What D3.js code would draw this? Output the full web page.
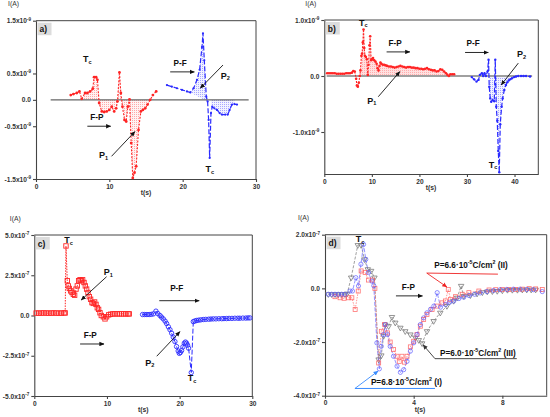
<!DOCTYPE html>
<html><head><meta charset="utf-8">
<script src="https://cdn.jsdelivr.net/npm/d3@7"></script>
<style>body{margin:0;background:#fff}</style>
</head><body><svg id="c" width="550" height="417"></svg>
<script>
// ---------- DATA (t in s, I in units of the panel exponent) ----------
const aRed = [[4.74,0.09],[5.10,0.11],[5.56,0.13],[5.92,0.16],[6.24,0.02],[6.69,0.13],[7.01,0.13],[7.38,0.16],[7.74,0.21],[7.92,0.43],[8.20,0.43],[8.38,0.38],[8.61,-0.06],[8.97,-0.22],[9.29,-0.23],[9.65,-0.22],[10.0,-0.19],[10.34,-0.13],[10.66,-0.22],[10.93,-0.16],[11.11,-0.03],[11.38,0.52],[11.57,0.13],[11.79,-0.13],[12.07,-0.38],[12.3,-0.41],[12.52,-0.13],[12.75,0.01],[12.98,-0.82],[13.2,-1.48],[13.43,-1.38],[13.66,-1.26],[13.98,-0.57],[14.3,-0.22],[14.57,-0.19],[14.89,-0.16],[15.21,-0.09],[15.57,0.0],[15.94,0.09],[16.39,0.16]];
const aBlue = [[17.85,0.28],[18.53,0.25],[19.22,0.22],[19.9,0.19],[20.58,0.16],[21.04,0.14],[21.49,0.22],[21.95,0.38],[22.31,0.57],[22.63,1.0],[22.77,1.26],[22.95,0.75],[23.22,0.06],[23.4,-0.03],[23.54,-0.38],[23.68,-1.1],[23.86,-0.25],[24.04,-0.13],[24.32,-0.16],[24.68,-0.19],[25.04,-0.25],[25.36,-0.28],[25.82,-0.28],[26.14,-0.28],[26.41,-0.19],[26.73,-0.09],[27.05,-0.08],[27.41,-0.09]];
const bRed = [[0.6,0.05],[1.0,0.05],[1.4,0.05],[1.8,0.05],[2.2,0.05],[2.6,0.04],[3.0,0.04],[3.4,0.04],[3.8,0.04],[4.2,0.04],[4.6,0.05],[5.0,0.05],[5.4,0.05],[5.8,0.06],[6.1,0.09],[6.4,0.08],[6.7,-0.05],[6.85,-0.17],[7.05,-0.19],[7.25,-0.12],[7.45,0.0],[7.6,0.1],[7.8,0.36],[7.95,0.4],[8.1,0.6],[8.25,0.83],[8.4,0.5],[8.55,0.36],[8.75,0.34],[8.95,0.3],[9.15,0.02],[9.3,0.2],[9.5,0.55],[9.65,0.71],[9.85,0.28],[10.0,0.3],[10.25,0.32],[10.5,0.28],[10.75,0.26],[11.0,0.22],[11.2,0.14],[11.4,0.1],[11.6,0.18],[11.8,0.24],[12.0,0.22],[12.3,0.2],[12.6,0.2],[12.9,0.19],[13.2,0.18],[13.6,0.17],[14.0,0.17],[14.4,0.16],[14.8,0.15],[15.2,0.16],[15.6,0.17],[16.0,0.18],[16.4,0.17],[16.8,0.16],[17.2,0.15],[17.6,0.16],[18.0,0.16],[18.4,0.15],[18.8,0.15],[19.2,0.14],[19.6,0.14],[20.0,0.13],[20.4,0.13],[20.8,0.12],[21.2,0.13],[21.6,0.14],[22.0,0.12],[22.4,0.11],[22.8,0.1],[23.2,0.1],[23.6,0.08],[24.0,0.09],[24.4,0.12],[24.8,0.11],[25.2,0.08],[25.6,0.05],[25.9,0.02],[26.2,0.0],[26.5,0.03],[26.9,0.03],[27.3,0.03]];
const bBlue = [[31.01,-0.02],[31.51,-0.06],[32.0,-0.10],[32.42,-0.07],[32.71,0.02],[33.13,0.05],[33.41,0.0],[33.69,0.05],[33.98,0.0],[34.33,0.08],[34.54,0.29],[34.68,-0.19],[34.89,-0.40],[35.1,-0.46],[35.38,-0.43],[35.74,-0.45],[35.95,0.29],[36.16,-0.55],[36.37,-0.80],[36.58,-1.34],[36.79,-1.72],[37.0,-0.86],[37.29,-0.55],[37.5,-0.40],[37.85,-0.25],[38.2,-0.16],[38.5,-0.11],[38.77,-0.08],[39.1,-0.06],[39.47,-0.04],[39.9,-0.02],[40.32,-0.01],[40.8,0.0],[41.37,0.0],[41.9,0.0],[42.43,0.0],[43.28,-0.01]];
const cRed = [[0.25,0.15],[0.6,0.15],[0.95,0.15],[1.3,0.16],[1.65,0.15],[2.0,0.15],[2.35,0.15],[2.7,0.16],[3.05,0.15],[3.4,0.15],[3.75,0.15],[4.1,0.16],[4.25,0.16],[4.36,4.32],[4.54,2.16],[4.68,1.84],[4.82,1.68],[5.0,1.53],[5.19,1.43],[5.37,1.32],[5.55,1.26],[5.74,1.64],[5.92,1.84],[6.1,2.16],[6.29,2.22],[6.47,2.16],[6.65,2.22],[6.84,2.05],[7.02,1.84],[7.2,1.64],[7.39,1.43],[7.57,1.17],[7.75,1.01],[7.94,0.80],[8.12,0.75],[8.3,0.84],[8.49,0.69],[8.67,0.48],[8.85,0.38],[9.04,0.17],[9.22,0.0],[9.5,-0.08],[9.73,-0.21],[9.95,-0.08],[10.23,0.04],[10.5,0.08],[10.8,0.1],[11.1,0.1],[11.4,0.1],[11.7,0.1],[12.0,0.1],[12.3,0.1],[12.6,0.1],[12.9,0.1],[13.07,0.1]];
const cBlue = [[14.9,0.06],[15.2,0.06],[15.5,0.06],[15.8,0.06],[16.1,0.07],[16.4,0.1],[16.74,0.27],[17.0,0.12],[17.29,0.0],[17.5,-0.1],[17.75,-0.21],[18.0,-0.35],[18.21,-0.5],[18.45,-0.7],[18.67,-0.88],[18.9,-1.1],[19.12,-1.34],[19.35,-1.62],[19.58,-1.93],[19.8,-2.2],[19.95,-2.35],[20.1,-2.3],[20.27,-2.18],[20.45,-1.95],[20.64,-1.72],[20.8,-1.65],[20.96,-1.72],[21.1,-1.85],[21.23,-2.03],[21.6,-3.54],[21.88,-0.38],[22.1,-0.34],[22.33,-0.31],[22.6,-0.29],[22.9,-0.27],[23.25,-0.25],[23.6,-0.24],[24.0,-0.23],[24.3,-0.22],[24.63,-0.21],[25.0,-0.21],[25.4,-0.2],[25.8,-0.2],[26.1,-0.19],[26.46,-0.19],[26.8,-0.18],[27.2,-0.18],[27.6,-0.17],[28.0,-0.17],[28.29,-0.17],[28.7,-0.16],[29.1,-0.16],[29.4,-0.15],[29.67,-0.15]];
const dI = [[0.15,-0.22],[0.3,-0.22],[0.45,-0.22],[0.6,-0.22],[0.75,-0.22],[0.9,-0.22],[1.13,-0.1],[1.24,-0.1],[1.39,0.40],[1.51,0.09],[1.62,0.9],[1.74,1.64],[1.84,1.08],[1.96,0.59],[2.11,0.27],[2.2,0.1],[2.34,-2.03],[2.45,-3.0],[2.54,-2.16],[2.64,-1.72],[2.72,-1.35],[2.82,-1.72],[2.94,-2.16],[3.09,-2.53],[3.25,-2.9],[3.4,-3.13],[3.55,-3.03],[3.7,-2.72],[3.85,-2.34],[4.0,-2.03],[4.15,-1.72],[4.3,-1.35],[4.45,-1.1],[4.6,-0.91],[4.76,-0.78],[4.91,-0.66],[5.06,-0.16],[5.21,-0.7],[5.43,-0.6],[5.62,-0.52],[5.81,-0.47],[6.04,-0.38],[6.26,-0.33],[6.5,-0.27],[6.75,-0.22],[7.0,-0.17],[7.3,-0.12],[7.6,-0.08],[7.9,-0.05],[8.2,-0.04],[8.5,-0.03],[8.8,-0.03],[9.1,-0.04],[9.4,-0.05],[9.8,-0.12]];
const dII = [[0.45,-0.31],[0.68,-0.35],[0.86,-0.37],[1.06,-0.35],[1.21,-0.35],[1.36,-0.79],[1.5,-0.1],[1.63,0.65],[1.81,0.59],[1.96,0.31],[2.14,0.31],[2.25,0.0],[2.42,-2.78],[2.54,-1.6],[2.69,-1.35],[2.82,-1.66],[2.94,-2.0],[3.09,-2.28],[3.25,-2.53],[3.35,-2.72],[3.47,-2.53],[3.59,-2.75],[3.7,-2.53],[3.85,-2.18],[4.0,-1.97],[4.15,-1.72],[4.3,-1.41],[4.45,-1.16],[4.6,-0.97],[4.83,-0.79],[5.06,-0.66],[5.28,-0.54],[5.43,-0.47],[5.56,-0.04],[5.66,-0.41],[5.89,-0.31],[6.19,-0.22],[6.49,-0.16],[6.94,-0.1],[7.4,-0.06],[7.7,-0.05],[8.0,-0.04],[8.3,-0.04],[8.6,-0.04],[8.9,-0.03],[9.21,-0.01],[9.5,-0.02],[9.8,-0.04]];
const dIII = [[0.15,-0.22],[0.3,-0.22],[0.45,-0.22],[0.6,-0.22],[0.75,-0.22],[0.9,-0.22],[1.0,-0.2],[1.18,0.4],[1.48,1.61],[1.63,1.61],[1.78,1.08],[1.93,0.71],[2.08,0.65],[2.23,0.4],[2.42,-2.65],[2.54,-2.5],[2.64,-1.78],[2.72,-1.35],[2.87,-1.41],[3.02,-1.07],[3.17,-1.28],[3.4,-1.47],[3.62,-1.6],[3.85,-1.72],[4.08,-1.84],[4.23,-1.93],[4.38,-2.05],[4.6,-1.6],[4.9,-1.22],[5.2,-0.91],[5.5,-0.66],[5.8,-0.47],[5.96,-0.35],[6.14,0.09],[6.26,-0.29],[6.56,-0.26],[6.86,-0.2],[7.1,-0.15],[7.32,-0.12],[7.55,-0.11],[7.77,-0.1],[8.0,-0.08],[8.23,-0.06],[8.45,-0.06],[8.68,-0.06],[8.9,-0.05],[9.1,-0.05],[9.3,-0.05],[9.5,-0.05]];

const xTicksA = [0,10,20,30], yTicksA = [1.5,0.5,0,-0.5,-1.5];
const xTicksB = [0,10,20,30,40], yTicksB = [1.0,0,-1.0];
const xTicksC = [0,10,20,30], yTicksC = [5.0,2.5,0,-2.5,-5.0];
const xTicksD = [0,4,8], yTicksD = [2.0,0,-2.0,-4.0];

// ---------- DRAWING ----------
const FONT = '"Liberation Sans", Arial, sans-serif';
const RED = '#ff2424', BLUE = '#2a2aff', GRAY = '#7a7a7a';
const svg = d3.select('#c');
const defs = svg.append('defs');

function dotPattern(id, bg, fg) {
  const p = defs.append('pattern').attr('id', id).attr('width', 2).attr('height', 2).attr('patternUnits', 'userSpaceOnUse');
  p.append('rect').attr('width', 2).attr('height', 2).attr('fill', bg);
  p.append('rect').attr('width', 1).attr('height', 1).attr('fill', fg);
}
dotPattern('dotR', '#fff3f3', '#ffa8a8');
dotPattern('dotB', '#f2f3ff', '#a8a8ff');
dotPattern('dotR2', '#ffe0e0', '#ffadad');

function arrowMarker(id, color) {
  defs.append('marker').attr('id', id).attr('viewBox', '0 0 8 8').attr('refX', 7.5).attr('refY', 4)
    .attr('markerWidth', 5).attr('markerHeight', 5).attr('orient', 'auto').attr('markerUnits', 'userSpaceOnUse')
    .append('path').attr('d', 'M0,0.5L8,4L0,7.5z').attr('fill', color);
}
arrowMarker('arK', '#111'); arrowMarker('arR', '#ee2222'); arrowMarker('arB', '#3a8cff'); arrowMarker('arG', '#333');

function makePanel(o) {
  const x = d3.scaleLinear().domain(o.xd).range(o.xr);
  const y = d3.scaleLinear().domain(o.yd).range(o.yr);
  const g = svg.append('g');
  g.append('path').attr('d', `M${o.xr[0]},${o.yr[1]}H${o.xr[1]}V${o.yr[0]}`).attr('fill', 'none').attr('stroke', '#444').attr('stroke-width', 1);
  const ax = g.append('g').attr('transform', `translate(0,${o.yr[0]})`)
    .call(d3.axisBottom(x).tickValues(o.xt).tickSize(3).tickSizeOuter(0).tickPadding(2).tickFormat(d => d));
  const ay = g.append('g').attr('transform', `translate(${o.xr[0]},0)`)
    .call(d3.axisLeft(y).tickValues(o.yt).tickSize(3).tickSizeOuter(0).tickPadding(2));
  ay.selectAll('.tick text').text(null).each(function (d) {
    const t = d3.select(this);
    if (d === 0) { t.text('0.0'); }
    else { t.append('tspan').text(d.toFixed(1) + 'x10'); t.append('tspan').attr('dy', -2.6).attr('font-size', 4.6).text(o.exp); }
  });
  [ax, ay].forEach(a => {
    a.select('.domain').attr('stroke', '#444').attr('stroke-width', 1.1);
    a.selectAll('.tick line').attr('stroke', '#444').attr('stroke-width', 1.1);
    a.selectAll('text').attr('font-family', FONT).attr('font-size', 6.6).attr('font-weight', 'bold').attr('fill', '#333');
  });
  g.append('text').attr('x', o.xr[0] + o.yTitleDx).attr('y', o.yr[1] - 14.5).attr('text-anchor', 'middle')
    .attr('font-family', FONT).attr('font-size', 6.8).attr('fill', '#333').text('I(A)');
  g.append('text').attr('x', o.xTitleX).attr('y', o.yr[0] + 16).attr('text-anchor', 'middle')
    .attr('font-family', FONT).attr('font-size', 6.8).attr('font-weight', 'bold').attr('fill', '#333').text('t(s)');
  g.append('rect').attr('x', o.xr[0] + 1.5).attr('y', o.yr[1] + 2).attr('width', 14).attr('height', 12.5).attr('fill', '#dcdcdc');
  g.append('text').attr('x', o.xr[0] + 3.5).attr('y', o.yr[1] + 11.5).attr('font-family', FONT).attr('font-size', 8.5)
    .attr('font-weight', 'bold').attr('fill', '#111').text(o.label);
  return { g, x, y };
}

function lineOf(P, data, color, dash, w, op) {
  P.g.append('path').datum(data).attr('fill', 'none').attr('stroke', color).attr('stroke-width', w)
    .attr('stroke-dasharray', dash).attr('opacity', op || 1)
    .attr('d', d3.line().x(d => P.x(d[0])).y(d => P.y(d[1])));
}
function dots(P, data, color, r) {
  P.g.append('g').selectAll('circle').data(data).join('circle')
    .attr('cx', d => P.x(d[0])).attr('cy', d => P.y(d[1])).attr('r', r).attr('fill', color);
}
function areaFill(P, data, t0, t1, fill) {
  const sub = data.filter(d => d[0] >= t0 && d[0] <= t1);
  P.g.append('path').datum(sub).attr('fill', fill).attr('stroke', 'none')
    .attr('d', d3.area().x(d => P.x(d[0])).y0(P.y(0)).y1(d => P.y(d[1])));
}
function polyFill(P, data, t0, t1, fill) {
  const sub = data.filter(d => d[0] >= t0 && d[0] <= t1);
  P.g.append('path').datum(sub).attr('fill', fill).attr('stroke', 'none')
    .attr('d', d3.line().x(d => P.x(d[0])).y(d => P.y(d[1])).curve(d3.curveLinearClosed));
}
function txt(P, t, v, s, size, color, anchor) {
  return P.g.append('text').attr('x', P.x(t)).attr('y', P.y(v)).attr('font-family', FONT).attr('font-size', size || 8.5)
    .attr('font-weight', 'bold').attr('fill', color || '#111').attr('text-anchor', anchor || 'middle')
    .attr('dominant-baseline', 'middle').text(s);
}
function subTxt(P, t, v, main, sub, size, color) {
  const e = P.g.append('text').attr('x', P.x(t)).attr('y', P.y(v)).attr('font-family', FONT).attr('font-size', size || 9)
    .attr('font-weight', 'bold').attr('fill', color || '#111').attr('text-anchor', 'middle').attr('dominant-baseline', 'middle');
  e.append('tspan').text(main);
  e.append('tspan').attr('dy', 2.5).attr('font-size', (size || 9) * 0.62).text(sub);
}
function arrow(P, t1, v1, t2, v2, color, marker, w) {
  P.g.append('line').attr('x1', P.x(t1)).attr('y1', P.y(v1)).attr('x2', P.x(t2)).attr('y2', P.y(v2))
    .attr('stroke', color || '#111').attr('stroke-width', w || 0.9).attr('marker-end', marker ? `url(#${marker})` : null);
}
function seg(P, t1, v1, t2, v2, color, w) { arrow(P, t1, v1, t2, v2, color, null, w); }

// ----- panel a -----
const A = makePanel({ xd: [0, 30], xr: [36, 256], yd: [-1.5, 1.5], yr: [179, 20.7], xt: xTicksA, yt: yTicksA, exp: '-9', label: 'a)', yTitleDx: -22.5, xTitleX: 146 });
areaFill(A, aRed, 6.2, 15.6, 'url(#dotR)');
polyFill(A, aBlue, 21.0, 23.45, 'url(#dotB)');
areaFill(A, aBlue, 23.8, 27.1, 'url(#dotB)');
A.g.append('line').attr('x1', A.x(2)).attr('x2', A.x(29)).attr('y1', A.y(0)).attr('y2', A.y(0)).attr('stroke', '#666').attr('stroke-width', 1.1);
lineOf(A, aRed, RED, '2,1.4', 1.1);
dots(A, aRed, RED, 1.4);
lineOf(A, aBlue, BLUE, '5,2', 1.2);
dots(A, aBlue, BLUE, 1.1);
subTxt(A, 7.0, 0.75, 'T', 'c');
txt(A, 8.3, -0.34, 'F-P', 8.2);
arrow(A, 7.0, -0.5, 10.2, -0.5, '#111', 'arK');
subTxt(A, 9.2, -1.07, 'P', '1');
arrow(A, 10.3, -1.07, 13.5, -0.6, '#111', 'arK');
txt(A, 19.65, 0.69, 'P-F', 8.2);
arrow(A, 18.3, 0.53, 21.6, 0.53, '#111', 'arK');
subTxt(A, 25.8, 0.44, 'P', '2');
arrow(A, 25.5, 0.66, 22.4, 0.22, '#111', 'arK');
subTxt(A, 23.7, -1.33, 'T', 'c');

// ----- panel b -----
const B = makePanel({ xd: [0, 45], xr: [324.3, 538.3], yd: [-1.75, 1.0], yr: [174, 20], xt: xTicksB, yt: yTicksB, exp: '-9', label: 'b)', yTitleDx: -13.5, xTitleX: 431 });
areaFill(B, bRed, 7.45, 26.2, 'url(#dotR2)');
areaFill(B, bBlue, 34.6, 39.5, 'url(#dotB)');
B.g.append('line').attr('x1', B.x(0.5)).attr('x2', B.x(43.7)).attr('y1', B.y(0)).attr('y2', B.y(0)).attr('stroke', '#a0a0a0').attr('stroke-width', 2);
lineOf(B, bRed, RED, '2,1.2', 1.1);
dots(B, bRed, RED, 1.3);
lineOf(B, bBlue, BLUE, '5,2', 1.2);
dots(B, bBlue, BLUE, 1.2);
subTxt(B, 8.2, 0.93, 'T', 'c');
txt(B, 14.9, 0.58, 'F-P', 8.2);
arrow(B, 13.1, 0.43, 18.0, 0.43, '#111', 'arK');
subTxt(B, 10.0, -0.46, 'P', '1');
arrow(B, 11.35, -0.37, 15.9, 0.08, '#111', 'arK');
txt(B, 31.3, 0.58, 'P-F', 8.2);
arrow(B, 29.6, 0.42, 34.5, 0.42, '#111', 'arK');
subTxt(B, 41.5, 0.37, 'P', '2');
arrow(B, 40.8, 0.23, 37.2, -0.16, '#111', 'arK');
subTxt(B, 35.5, -1.6, 'T', 'c');

// ----- panel c -----
const C = makePanel({ xd: [0, 30], xr: [34.3, 252.3], yd: [-5, 5], yr: [396, 235], xt: xTicksC, yt: yTicksC, exp: '-7', label: 'c)', yTitleDx: -19, xTitleX: 143.3 });
lineOf(C, cRed, RED, '1.5,1.2', 1);
C.g.append('g').selectAll('rect').data(cRed).join('rect')
  .attr('x', d => C.x(d[0]) - 2.2).attr('y', d => C.y(d[1]) - 2.2).attr('width', 4.4).attr('height', 4.4)
  .attr('fill', 'none').attr('stroke', RED).attr('stroke-width', 0.9);
lineOf(C, cBlue, BLUE, '5,2', 1);
C.g.append('g').selectAll('circle').data(cBlue).join('circle')
  .attr('cx', d => C.x(d[0])).attr('cy', d => C.y(d[1])).attr('r', 2.2)
  .attr('fill', 'none').attr('stroke', BLUE).attr('stroke-width', 0.9);
subTxt(C, 4.7, 4.6, 'T', 'c');
subTxt(C, 10.2, 2.62, 'P', '1');
arrow(C, 9.95, 2.41, 6.45, 0.96, '#111', 'arK');
txt(C, 7.7, -1.27, 'F-P', 8.2);
arrow(C, 6.3, -1.77, 9.6, -1.77, '#111', 'arK');
txt(C, 19.6, 1.65, 'P-F', 8.2);
arrow(C, 17.2, 0.92, 22.7, 0.92, '#111', 'arK');
subTxt(C, 15.9, -3.0, 'P', '2');
arrow(C, 16.85, -2.53, 20.05, -1.0, '#111', 'arK');
subTxt(C, 21.7, -3.95, 'T', 'c');

// ----- panel d -----
const D = makePanel({ xd: [0, 10], xr: [325, 546.7], yd: [-4, 2], yr: [395.7, 234.7], xt: xTicksD, yt: yTicksD, exp: '-7', label: 'd)', yTitleDx: -21.5, xTitleX: 420 });
lineOf(D, dIII, GRAY, '3,1.5', 0.9, 0.8);
lineOf(D, dII, '#ff6a6a', '1.5,1.2', 0.9, 0.8);
lineOf(D, dI, '#6a6aff', '4,1.5', 0.9, 0.8);
D.g.append('g').selectAll('path').data(dIII).join('path')
  .attr('transform', d => `translate(${D.x(d[0])},${D.y(d[1])}) rotate(180)`)
  .attr('d', d3.symbol().type(d3.symbolTriangle).size(13))
  .attr('fill', 'none').attr('stroke', GRAY).attr('stroke-width', 0.8);
D.g.append('g').selectAll('rect').data(dII).join('rect')
  .attr('x', d => D.x(d[0]) - 2).attr('y', d => D.y(d[1]) - 2).attr('width', 4).attr('height', 4)
  .attr('fill', 'none').attr('stroke', '#ff5a5a').attr('stroke-width', 0.8).attr('opacity', 0.85);
D.g.append('g').selectAll('circle').data(dI).join('circle')
  .attr('cx', d => D.x(d[0])).attr('cy', d => D.y(d[1])).attr('r', 2.1)
  .attr('fill', 'none').attr('stroke', '#5a5aff').attr('stroke-width', 0.8).attr('opacity', 0.85);
subTxt(D, 1.58, 1.8, 'T', 'c');
txt(D, 3.76, 0.02, 'F-P', 8.2);
arrow(D, 3.2, -0.28, 4.4, -0.28, '#111', 'arK');

function pLabel(P, t, v, val, roman, color) {
  const e = P.g.append('text').attr('x', P.x(t)).attr('y', P.y(v)).attr('font-family', FONT).attr('font-size', 8.2)
    .attr('font-weight', 'bold').attr('fill', color).attr('dominant-baseline', 'middle');
  e.append('tspan').text('P=' + val + '·10');
  e.append('tspan').attr('dy', -3).attr('font-size', 5.3).text('-5');
  e.append('tspan').attr('dy', 3).text('C/cm');
  e.append('tspan').attr('dy', -3).attr('font-size', 5.3).text('2');
  e.append('tspan').attr('dy', 3).text(' (' + roman + ')');
}
pLabel(D, 4.93, 0.84, '6.6', 'II', '#111');
seg(D, 4.59, 0.57, 7.8, 0.53, '#ee2222', 0.9);
arrow(D, 4.59, 0.57, 5.5, 0.05, '#ee2222', 'arR');
pLabel(D, 5.19, -2.44, '6.0', 'III', '#111');
seg(D, 4.96, -2.62, 8.65, -2.62, '#333', 0.9);
arrow(D, 4.96, -2.62, 4.42, -2.1, '#333', 'arG');
pLabel(D, 2.07, -3.54, '6.8', 'I', '#111');
seg(D, 1.35, -3.73, 4.96, -3.73, '#3a8cff', 1);
arrow(D, 1.35, -3.73, 2.4, -3.08, '#3a8cff', 'arB');
</script>
</body></html>
